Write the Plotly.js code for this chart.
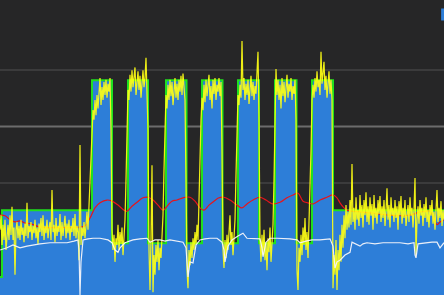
<!DOCTYPE html>
<html>
<head>
<meta charset="utf-8">
<script src="https://cdn.plot.ly/plotly-3.0.1.min.js"></script>
<style>html,body{margin:0;padding:0;background:#262627;}#chart{width:444px;height:295px;}</style>
</head>
<body>
<div id="chart"></div>
<script>
// Workout plan (target power, W): segment start times and levels; last segment ends at planEnd
const planStart = [0, 2, 92, 112, 128, 148, 166, 186.5, 202, 222.5, 238, 259, 275, 296.5, 312, 333];
const planPower = [32, 151, 382, 92, 382, 92, 382, 92, 382, 92, 382, 92, 382, 92, 382, 151];
const planEnd = 444;

// Actual power (W), one sample per time unit starting at 0
const actualPower = [
116,142,89,125,98,134,80,116,125,98,
142,107,157,98,120,36,116,130,101,123,
98,134,107,120,94,127,105,164,101,123,
112,130,98,123,110,134,101,120,91,127,
112,137,105,142,98,123,110,134,101,120,
130,98,187,112,125,94,137,105,123,112,
144,98,130,105,120,141,101,127,110,134,
98,123,112,137,105,144,101,123,112,62,
267,89,120,105,130,101,123,148,116,160,
214,258,303,329,312,347,320,356,332,365,
386,338,370,347,379,356,383,351,376,362,
386,294,116,80,107,59,101,89,125,80,
112,91,120,71,105,134,205,294,365,347,
392,362,400,370,386,405,356,383,398,365,
390,351,379,400,370,386,422,356,294,80,
9,98,231,5,71,36,89,59,98,44,
84,66,107,142,223,312,356,332,374,347,
383,354,379,338,370,386,351,376,347,383,
362,390,356,394,370,347,205,44,12,80,
53,94,66,101,80,112,89,125,98,151,
240,312,351,329,374,343,383,354,379,392,
347,372,332,383,358,386,347,374,362,386,
354,379,258,80,48,98,66,107,80,125,
142,89,112,71,101,134,214,312,356,338,
374,351,452,365,386,347,376,356,383,340,
370,390,354,379,347,372,358,386,433,312,
98,59,107,71,116,62,94,44,101,76,
120,59,98,125,205,294,402,356,383,347,
374,332,386,354,379,343,370,392,351,376,
362,386,347,372,358,383,312,44,9,84,
59,107,71,120,89,137,80,112,66,123,
169,258,347,374,351,386,362,398,370,383,
356,433,376,400,415,365,390,351,379,398,
358,383,347,12,71,36,98,9,80,44,
107,59,125,84,142,101,160,116,148,120,
169,125,233,130,155,116,174,134,151,123,
178,137,160,120,169,142,183,130,158,125,
174,141,162,116,178,137,155,127,169,144,
176,130,158,137,169,123,151,190,134,160,
120,174,141,155,130,169,137,158,116,167,
142,176,127,155,137,169,123,148,160,130,
174,141,155,120,151,208,71,134,158,127,
169,141,155,123,162,137,174,130,151,120,
160,141,169,127,148,116,158,187,130,155,
137,167,123,151,134
];

// Second metric (white line)
const whiteT = [0,7,13,20,27,33,40,50,60,67,74,78,79,80,81,83,88,93,100,108,112,115,118,120,125,133,140,147,150,155,160,165,170,177,183,186,188,190,193,196,200,205,210,217,222,224,225,228,232,238,243,247,250,256,260,262,263,266,270,277,283,290,297,300,306,312,320,330,333,335,337,340,345,350,352,355,360,363,367,375,383,390,400,408,414,415,416,418,425,432,437,440,444];
const whiteV = [80,84,89,84,87,89,91,93,93,93,96,98,80,0,59,98,100,101,101,98,93,80,76,84,93,98,100,101,94,98,98,96,98,96,94,84,32,59,57,89,98,100,101,101,94,80,59,87,98,105,110,101,101,101,100,84,68,94,101,101,101,100,98,93,96,98,98,100,87,48,59,62,71,76,94,91,87,91,93,91,93,93,93,91,93,71,66,91,93,94,94,84,93];

// Smoothed metric (red line)
const redT = [0,5,10,15,20,25,30,40,50,60,70,80,85,90,95,100,107,112,118,124,127,132,137,143,148,153,158,163,168,172,177,183,190,195,200,204,209,214,219,224,230,237,242,247,253,260,266,273,280,287,293,298,303,308,313,320,327,333,337,340,344,347,353,360,370,380,390,400,410,420,425,430,434,437,440,444];
const redV = [142,141,134,130,132,128,127,121,120,120,120,121,123,137,155,164,169,167,160,151,149,158,165,173,174,169,160,151,160,167,169,173,174,167,155,151,160,167,173,174,169,160,155,162,169,174,169,162,165,173,178,181,167,164,162,169,174,178,173,164,155,151,149,148,146,144,142,141,142,148,149,149,137,125,130,134];

// Build plan widths and outline from the segment data
const planWidth = planStart.map((s, i) => (i < planStart.length - 1 ? planStart[i + 1] : planEnd) - s);
const outlineX = [], outlineY = [];
planStart.forEach((s, i) => { outlineX.push(s, s + planWidth[i]); outlineY.push(planPower[i], planPower[i]); });
const actualT = actualPower.map((_, i) => i);

const traces = [
  {type: 'bar', name: '', x: planStart, y: planPower, width: planWidth, offset: 0,
   marker: {color: 'rgb(45,126,216)', line: {width: 0}}, hoverinfo: 'skip', showlegend: true},
  {type: 'scatter', mode: 'lines', x: outlineX, y: outlineY, line: {color: '#1fe01f', width: 2},
   hoverinfo: 'skip', showlegend: false},
  {type: 'scatter', mode: 'lines', x: redT, y: redV, line: {color: '#e8141a', width: 1.2, shape: 'spline'},
   hoverinfo: 'skip', showlegend: false},
  {type: 'scatter', mode: 'lines', x: actualT, y: actualPower, line: {color: 'rgba(255,255,20,0.92)', width: 1.25},
   hoverinfo: 'skip', showlegend: false},
  {type: 'scatter', mode: 'lines', x: whiteT, y: whiteV, line: {color: 'rgba(245,245,250,0.95)', width: 1.2},
   hoverinfo: 'skip', showlegend: false}
];

const layout = {
  width: 444, height: 295,
  margin: {l: 0, r: 0, t: 0, b: 0, pad: 0, autoexpand: false},
  paper_bgcolor: '#262627', plot_bgcolor: '#262627',
  bargap: 0, bargroupgap: 0,
  xaxis: {range: [0, 444], showgrid: false, zeroline: false, showticklabels: false, ticks: '', showline: false, fixedrange: true},
  yaxis: {range: [0, 525], tickmode: 'array', tickvals: [200, 400], showgrid: true, gridcolor: '#3b3b3c', gridwidth: 2,
          zeroline: false, showticklabels: false, ticks: '', showline: false, fixedrange: true},
  shapes: [{type: 'line', xref: 'paper', x0: 0, x1: 1, yref: 'y', y0: 300, y1: 300, layer: 'below',
            line: {color: '#6c6c6d', width: 2}}],
  showlegend: true,
  legend: {x: 0.962, y: 1, xanchor: 'left', yanchor: 'top', bgcolor: 'rgba(0,0,0,0)', borderwidth: 0,
           font: {family: 'DejaVu Sans', size: 12, color: '#dddddd'}}
};

Plotly.newPlot('chart', traces, layout, {displayModeBar: false, staticPlot: true});
</script>
</body>
</html>
